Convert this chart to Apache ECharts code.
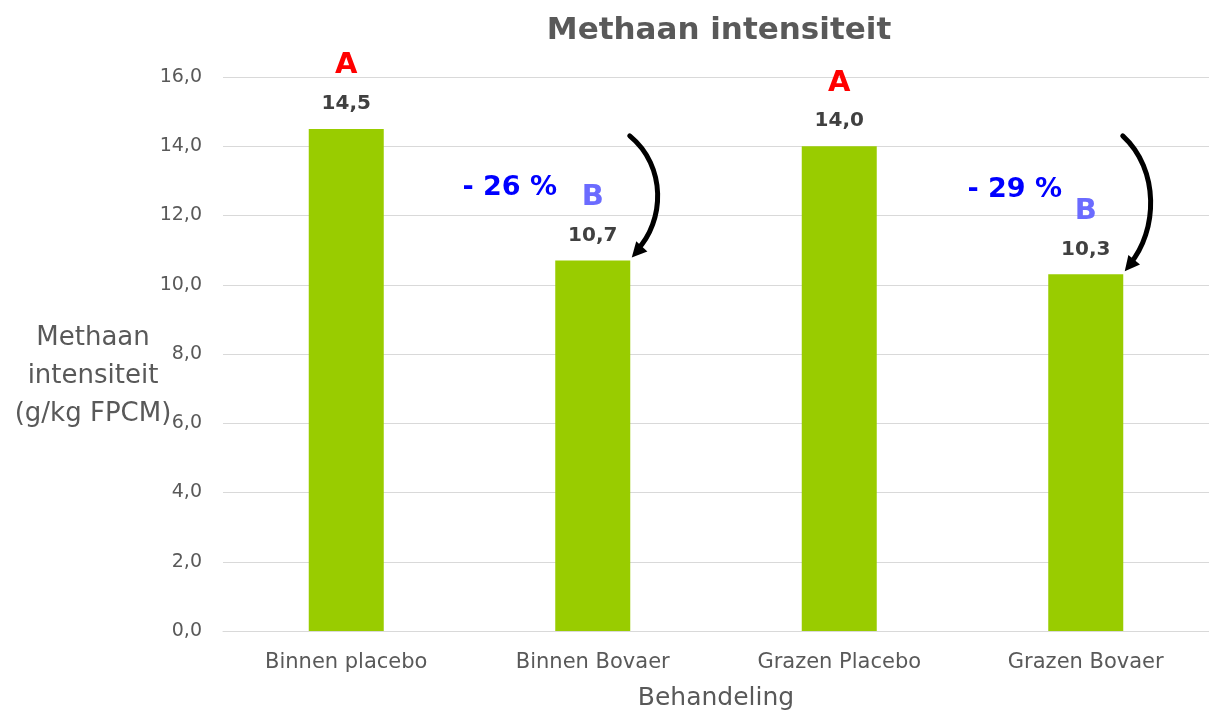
<!DOCTYPE html>
<html>
<head>
<meta charset="utf-8">
<script src="https://cdn.jsdelivr.net/npm/echarts@6/dist/echarts.min.js"></script>
<style>
html,body{margin:0;padding:0;background:#fff;}
#c{width:1209px;height:716px;}
</style>
</head>
<body>
<div id="c"></div>
<script>
const categories = ['Binnen placebo', 'Binnen Bovaer', 'Grazen Placebo', 'Grazen Bovaer'];
const values = [14.5, 10.7, 14.0, 10.3];
const letters = ['A', 'B', 'A', 'B'];
const yTicks = [0, 2, 4, 6, 8, 10, 12, 14, 16];
// reductions: [from category index, to category index, label, label y value]
const reductions = [
  [0, 1, '- 26 %', 12.8],
  [2, 3, '- 29 %', 12.75]
];
const arrowTopValue = 14.3;

const FONT = '"DejaVu Sans", "Open Sans", sans-serif';
const fmt = v => v.toFixed(1).replace('.', ',');

const chart = echarts.init(document.getElementById('c'), null, {renderer: 'canvas'});

const option = {
  backgroundColor: '#ffffff',
  animation: false,
  textStyle: {fontFamily: FONT},
  title: [
    {
      text: 'Methaan intensiteit',
      left: 714, top: 10, textAlign: 'center',
      textStyle: {fontFamily: FONT, fontSize: 31, fontWeight: 'bold', color: '#595959'}
    },
    {
      text: 'Methaan\nintensiteit\n(g/kg FPCM)',
      left: 88, top: 314, textAlign: 'center',
      textStyle: {fontFamily: FONT, fontSize: 26, fontWeight: 'normal', color: '#595959', lineHeight: 38}
    }
  ],
  grid: {left: 223, right: 0, top: 77, bottom: 85, containLabel: false},
  xAxis: {
    type: 'category',
    data: categories,
    name: 'Behandeling',
    nameLocation: 'middle',
    nameGap: 55,
    nameTextStyle: {fontFamily: FONT, fontSize: 25, color: '#595959'},
    axisTick: {show: false},
    axisLine: {lineStyle: {color: '#D9D9D9', width: 1}},
    axisLabel: {fontFamily: FONT, fontSize: 21, color: '#595959', margin: 21}
  },
  yAxis: {
    type: 'value',
    min: yTicks[0],
    max: yTicks[yTicks.length - 1],
    interval: yTicks[1] - yTicks[0],
    axisLine: {show: false},
    axisTick: {show: false},
    splitLine: {lineStyle: {color: '#D9D9D9', width: 1}},
    axisLabel: {fontFamily: FONT, fontSize: 19, color: '#595959', margin: 21, formatter: v => fmt(v)}
  },
  series: [{
    type: 'bar',
    data: values,
    barWidth: 75,
    itemStyle: {color: '#99CC00'},
    label: {
      show: true,
      position: 'top',
      distance: 13,
      formatter: p => '{' + (letters[p.dataIndex] === 'A' ? 'a' : 'b') + '|' + letters[p.dataIndex] + '}\n{v|' + fmt(p.value) + '}',
      rich: {
        a: {fontFamily: FONT, fontSize: 29, fontWeight: 'bold', color: '#FF0000', lineHeight: 52, align: 'center'},
        b: {fontFamily: FONT, fontSize: 29, fontWeight: 'bold', color: '#6B6BFF', lineHeight: 52, align: 'center'},
        v: {fontFamily: FONT, fontSize: 20, fontWeight: 'bold', color: '#404040', lineHeight: 24, align: 'center'}
      }
    }
  }]
};
chart.setOption(option);

function buildGraphics() {
  const els = [];
  const barHalf = 37;
  reductions.forEach(r => {
    const toIdx = r[1];
    const cx = chart.convertToPixel({xAxisIndex: 0}, categories[toIdx]);
    const yTop = chart.convertToPixel({yAxisIndex: 0}, arrowTopValue);
    const yBar = chart.convertToPixel({yAxisIndex: 0}, values[toIdx]);
    const x0 = cx + barHalf;
    const y0 = yTop;
    const x3 = x0 + 2;
    const y3 = yBar - 3;
    const h = y3 - y0;
    const c1x = x0 + 37, c1y = y0 + h * 0.25;
    const c2x = x0 + 35, c2y = y3 - h * 0.3;
    els.push({
      type: 'bezierCurve',
      shape: {x1: x0, y1: y0, cpx1: c1x, cpy1: c1y, cpx2: c2x, cpy2: c2y, x2: x3 + 5, y2: y3 - 7},
      style: {stroke: '#000000', lineWidth: 5, fill: null, lineCap: 'round'},
      z: 100
    });
    const dx = x3 - c2x, dy = y3 - c2y;
    const len = Math.sqrt(dx * dx + dy * dy);
    const ux = dx / len, uy = dy / len;
    const px = -uy, py = ux;
    const hl = 15, hw = 7.5;
    const bx = x3 - ux * hl, by = y3 - uy * hl;
    els.push({
      type: 'polygon',
      shape: {points: [[x3, y3], [bx + px * hw, by + py * hw], [bx - px * hw, by - py * hw]]},
      style: {fill: '#000000'},
      z: 101
    });
    const tx = cx + (toIdx === 1 ? -83 : -71);
    const ty = chart.convertToPixel({yAxisIndex: 0}, r[3]);
    els.push({
      type: 'text',
      x: tx, y: ty,
      style: {text: r[2], fontFamily: FONT, fontSize: 27, fontWeight: 'bold', fill: '#0000FF', align: 'center', verticalAlign: 'middle'},
      z: 100
    });
  });
  chart.setOption({graphic: {elements: els}});
}
buildGraphics();
</script>
</body>
</html>
